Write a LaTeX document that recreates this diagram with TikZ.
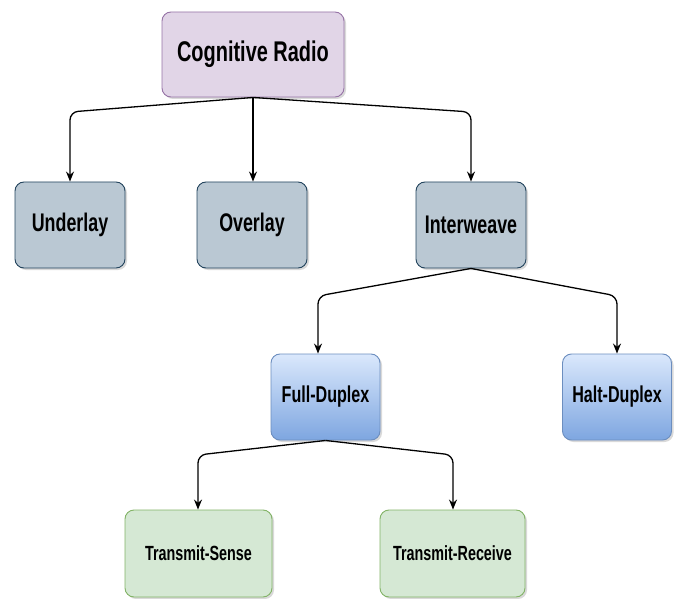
\documentclass[tikz,border=0pt]{standalone}
\usepackage{fontspec}
\setmainfont[FakeStretch=0.7]{Liberation Sans}
\usetikzlibrary{arrows.meta,shadows}
\definecolor{purpF}{HTML}{E1D5E7}
\definecolor{purpD}{HTML}{9673A6}
\definecolor{greyF}{HTML}{BAC8D3}
\definecolor{greyD}{HTML}{23445D}
\definecolor{blueT}{HTML}{DAE8FC}
\definecolor{blueB}{HTML}{7EA6E0}
\definecolor{blueD}{HTML}{6C8EBF}
\definecolor{greenF}{HTML}{D5E8D4}
\definecolor{greenD}{HTML}{82B366}
\tikzset{
  x=1pt,y=-1pt,
  box/.style={rectangle,rounded corners=9pt,line width=0.9pt,inner sep=0pt,
    font=\bfseries,drop shadow={shadow xshift=2pt,shadow yshift=-2pt,fill=black!25,opacity=0.6}},
  rootbox/.style={box,fill=purpF,draw=purpD,minimum width=182pt,minimum height=85pt,font=\bfseries\fontsize{28.5}{32}\selectfont},
  greybox/.style={box,fill=greyF,draw=greyD,minimum width=110pt,minimum height=86pt,font=\bfseries\fontsize{25.5}{29}\selectfont},
  bluebox/.style={box,top color=blueT,bottom color=blueB,draw=blueD,minimum width=109pt,minimum height=86pt,font=\bfseries\fontsize{23}{26}\selectfont},
  greenbox/.style={box,fill=greenF,draw=greenD,minimum height=87pt,font=\bfseries\fontsize{20.5}{23}\selectfont},
  conn/.style={line width=1.3pt,rounded corners=8pt,-{Stealth[length=10pt,width=8pt]}},
}
\begin{document}
\begin{tikzpicture}
\useasboundingbox (0,0) rectangle (678,599);
\node[rootbox] (cr) at (253,54.5) {Cognitive Radio};
\node[greybox] (ul) at (70,225) {Underlay};
\node[greybox] (ov) at (252,225) {Overlay};
\node[greybox] (iw) at (471,225) {Interweave};
\node[bluebox] (fd) at (325.5,397) {Full-Duplex};
\node[bluebox] (hd) at (617,397) {Halt-Duplex};
\node[greenbox,minimum width=147pt] (ts) at (198.5,553.5) {Transmit-Sense};
\node[greenbox,minimum width=145pt] (tr) at (452.5,553.5) {Transmit-Receive};
\coordinate (k1) at (70,112);
\coordinate (k2) at (471,112);
\coordinate (k3) at (318,296);
\coordinate (k4) at (617,296);
\coordinate (k5) at (198,455);
\coordinate (k6) at (453,455);
\draw[conn] (cr.south) -- (k1) -- (ul.north);
\draw[conn] (cr.south) -- (ov.north -| cr.south);
\draw[conn] (cr.south) -- (k2) -- (iw.north);
\draw[conn] (iw.south) -- (k3) -- (k3 |- fd.north);
\draw[conn] (iw.south) -- (k4) -- (hd.north);
\draw[conn] (fd.south) -- (k5) -- (k5 |- ts.north);
\draw[conn] (fd.south) -- (k6) -- (k6 |- tr.north);
\end{tikzpicture}
\end{document}
